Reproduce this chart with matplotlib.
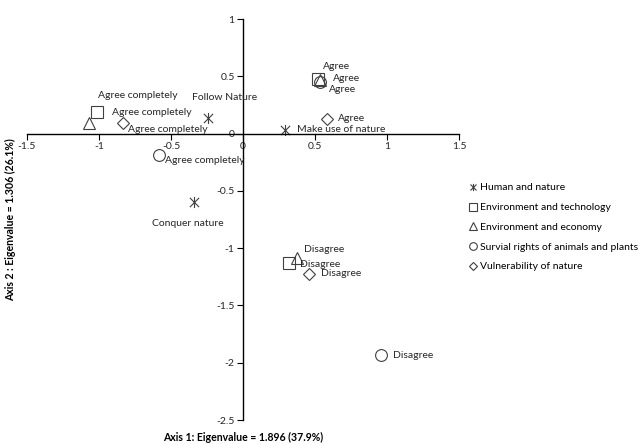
import matplotlib.pyplot as plt
from matplotlib.path import Path

plt.rcParams['font.family'] = ['Lato', 'DejaVu Sans']

# category labels, in the order of each series' points
labels = ["Agree completely", "Agree", "Disagree"]

# Human and nature has its own labels
human_labels = ["Follow Nature", "Make use of nature", "Conquer nature"]
human_x = [-0.243, 0.292, -0.34]
human_y = [0.14, 0.035, -0.595]

tech_x = [-1.014, 0.52, 0.319]
tech_y = [0.184, 0.48, -1.13]

econ_x = [-1.07, 0.535, 0.375]
econ_y = [0.096, 0.47, -1.09]

rights_x = [-0.583, 0.535, 0.958]
rights_y = [-0.184, 0.446, -1.933]

vuln_x = [-0.833, 0.583, 0.458]
vuln_y = [0.096, 0.131, -1.225]

# excel style "star": an X with a vertical bar
star = Path([(-1, -1), (1, 1), (-1, 1), (1, -1), (0, -1.2), (0, 1.2)],
            [Path.MOVETO, Path.LINETO] * 3)

series = [
    ("Human and nature", human_x, human_y, human_labels, star, 8,
     [(17, 20, 'center'), (12, 0, 'left'), (-6, -22, 'center')]),
    ("Environment and technology", tech_x, tech_y, labels, 's', 8.5,
     [(1, 17, 'left'), (5, 12, 'left'), (11, -1, 'left')]),
    ("Environment and economy", econ_x, econ_y, labels, '^', 8.5,
     [(23, 10, 'left'), (13, 1, 'left'), (7, 9, 'left')]),
    ("Survial rights of animals and plants", rights_x, rights_y, labels, 'o', 8.5,
     [(6, -6, 'left'), (9, -7, 'left'), (12, 0, 'left')]),
    ("Vulnerability of nature", vuln_x, vuln_y, labels, 'D', 6,
     [(5, -7, 'left'), (11, 0, 'left'), (12, 0, 'left')]),
]

fig = plt.figure(figsize=(6.42, 4.44), dpi=100)
ax = fig.add_axes([27 / 642, 24 / 444, 432 / 642, 401 / 444])

px = 0.72  # points per pixel
fs = 7.5
for name, xs, ys, texts, marker, ms, offs in series:
    ax.plot(xs, ys, linestyle='none', marker=marker, markersize=ms,
            markerfacecolor='none', markeredgecolor='#404040',
            markeredgewidth=0.8, label=name)
    for x, y, t, (dx, dy, ha) in zip(xs, ys, texts, offs):
        ax.annotate(t, (x, y), xytext=(dx * px, dy * px), textcoords='offset points',
                    ha=ha, va='center', fontsize=fs, color='#262626')

ax.set_xlim(-1.5, 1.5)
ax.set_ylim(-2.5, 1)
ax.set_xticks([-1.5, -1, -0.5, 0, 0.5, 1, 1.5])
ax.set_xticklabels(['-1.5', '-1', '-0.5', '0', '0.5', '1', '1.5'])
ax.set_yticks([-2.5, -2, -1.5, -1, -0.5, 0, 0.5, 1])
ax.set_yticklabels(['-2.5', '-2', '-1.5', '-1', '-0.5', '0', '0.5', '1'])

ax.spines['left'].set_position(('data', 0))
ax.spines['bottom'].set_position(('data', 0))
ax.spines['top'].set_visible(False)
ax.spines['right'].set_visible(False)
for s in ('left', 'bottom'):
    ax.spines[s].set_color('black')
    ax.spines[s].set_linewidth(1.0)
ax.tick_params(axis='both', direction='out', length=4, width=0.8,
               labelsize=fs, colors='black', labelcolor='#262626', pad=2)

fig.text(11 / 642, 1 - 220 / 444, "Axis 2 : Eigenvalue = 1.306 (26.1%)",
         rotation=90, ha='center', va='center', fontsize=7.6, fontweight='bold')
fig.text(243 / 642, 1 - 437 / 444, "Axis 1: Eigenvalue = 1.896 (37.9%)",
         ha='center', va='center', fontsize=7.6, fontweight='bold')

leg = fig.legend(loc='upper left', bbox_to_anchor=(466 / 642, 1 - 179 / 444),
                 frameon=False, fontsize=fs, markerscale=0.65,
                 handlelength=0.6, handletextpad=0.3, labelspacing=1.0,
                 borderaxespad=0)

fig.savefig('out.png', dpi=100)
